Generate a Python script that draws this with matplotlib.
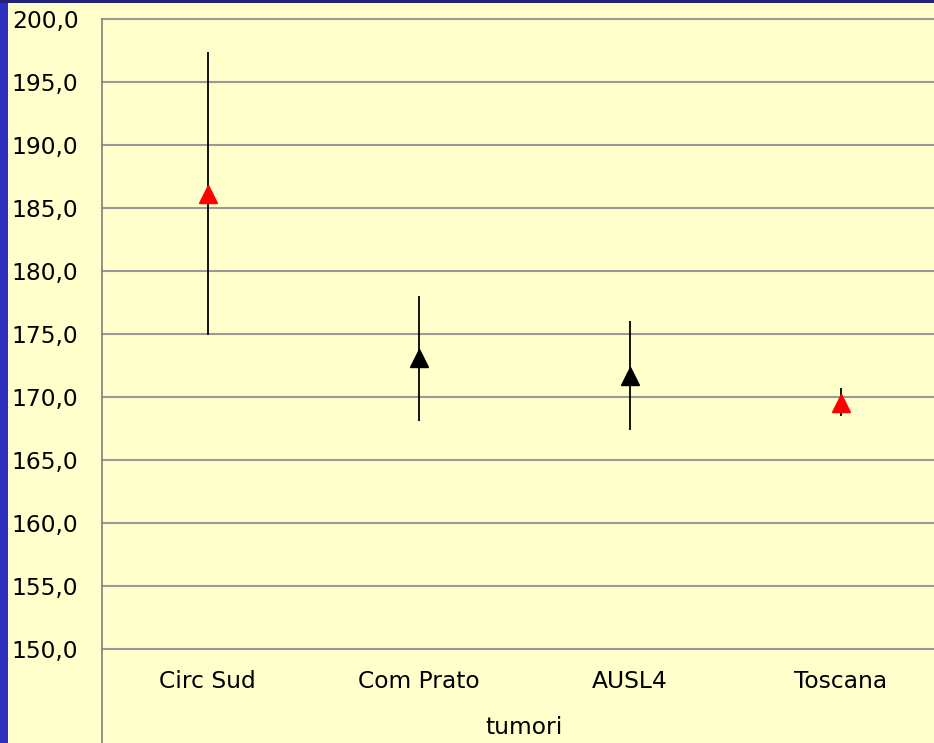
import matplotlib
matplotlib.use('Agg')
import matplotlib.pyplot as plt
import numpy as np
from matplotlib.patches import Rectangle
from matplotlib.lines import Line2D

categories = ['Circ Sud', 'Com Prato', 'AUSL4', 'Toscana']
values = [186.1, 173.1, 171.7, 169.5]
upper = [197.4, 178.0, 176.0, 170.7]
lower = [174.9, 168.1, 167.4, 168.5]
colors = ['red', 'black', 'black', 'red']
yticks = [150, 155, 160, 165, 170, 175, 180, 185, 190, 195, 200]
xlabel = 'tumori'

W, H = 934, 743
fig = plt.figure(figsize=(W / 100, H / 100), dpi=100)
fig.patch.set_facecolor('#2f2fbf')

# dark strip on top, yellow panel
fig.patches.append(Rectangle((0, 1 - 3 / H), 1, 3 / H, transform=fig.transFigure,
                             facecolor='#22227a', edgecolor='none', zorder=-2))
fig.patches.append(Rectangle((8 / W, 0), 1, 1 - 3 / H, transform=fig.transFigure,
                             facecolor='#ffffcc', edgecolor='none', zorder=-2))

ax = fig.add_axes([102 / W, 94 / H, 844 / W, 630 / H])
ax.set_zorder(1)
ax.patch.set_alpha(0)

x = np.arange(len(categories))
for i in range(len(categories)):
    ax.vlines(x[i], lower[i], upper[i], color='black', lw=1.3, zorder=3)
    ax.plot(x[i], values[i], marker='^', ms=13, color=colors[i], mec=colors[i], zorder=4)

ax.set_xlim(-0.5, 3.5)
ax.set_ylim(150, 200)
ax.set_yticks(yticks)
ax.set_yticklabels([f'{v:.1f}'.replace('.', ',') for v in yticks])
ax.set_xticks(x)
ax.set_xticklabels(categories)
ax.yaxis.grid(True, color='#999999', lw=1.5)
ax.set_axisbelow(True)
for gl in ax.get_ygridlines():
    gl.set_clip_on(False)
for s in ['top', 'right', 'bottom', 'left']:
    ax.spines[s].set_visible(False)
ax.tick_params(axis='y', length=0, pad=17, labelsize=16.8, colors='black')
ax.tick_params(axis='x', length=0, pad=15, labelsize=16.8, colors='black')
ax.set_xlabel(xlabel, fontsize=16.8, labelpad=17)

# vertical axis line running down to the bottom of the panel
fig.lines.append(Line2D([102 / W, 102 / W], [0, 1 - 19 / H], transform=fig.transFigure,
                        color='#888888', lw=1.3, zorder=2))

fig.savefig('out.png', dpi=100, facecolor=fig.get_facecolor())
